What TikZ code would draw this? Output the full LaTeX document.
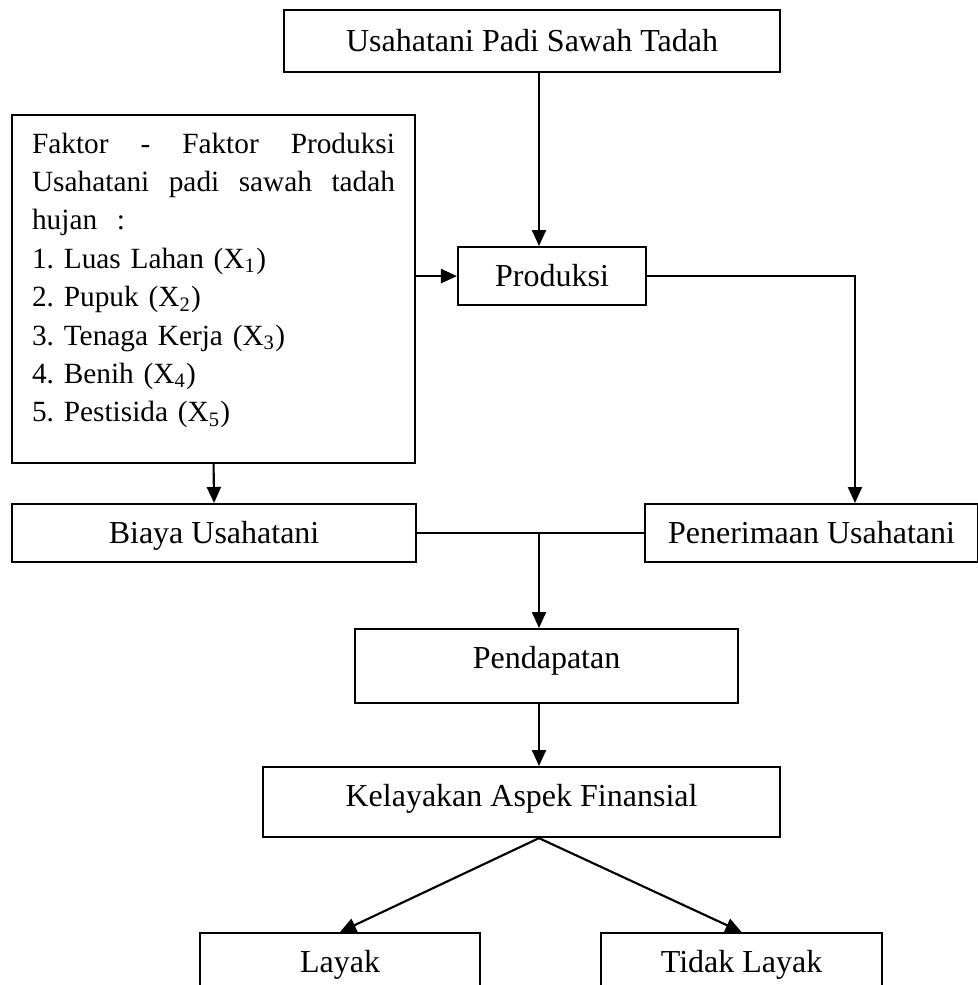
\documentclass[tikz,border=0pt]{standalone}
\usepackage{fontspec}
\setmainfont{Liberation Serif}
\usetikzlibrary{arrows.meta}
\tikzset{
	box/.style={draw, thick, anchor=north west, inner xsep=0pt, inner ysep=0pt, text height=14.625pt, font=\fontsize{12pt}{14.4pt}\selectfont},
	arrow/.style={thick, -{Triangle[length=6pt, width=5.25pt]}},
	link/.style={thick},
}

\begin{document}
\frenchspacing
\begin{tikzpicture}[x=0.375pt, y=-0.375pt]
		\clip (0,0) rectangle (978,985);
		\useasboundingbox (0,0) rectangle (978,985);

		% Boxes
		\node[box, minimum width=186pt, text height=15.375pt, text depth=7.875pt] (usahatani) at (283,9) {Usahatani Padi Sawah Tadah};
		\node[box, inner xsep=7.5pt, text width=136.125pt, align=left, text height=14.25pt, text depth=116.25pt, font=\fontsize{11pt}{14.4pt}\selectfont] (faktor) at (11,114) {Faktor\hfill-\hfill Faktor\hfill Produksi\\Usahatani\hfill padi\hfill sawah\hfill tadah\\hujan\ \ :\\1. Luas Lahan (X\textsubscript{1})\\2. Pupuk (X\textsubscript{2})\\3. Tenaga Kerja (X\textsubscript{3})\\4. Benih (X\textsubscript{4})\\5. Pestisida (X\textsubscript{5})};
		\node[box, minimum width=70.5pt, text depth=7.125pt] (produksi) at (457,246) {Produksi};
		\node[box, minimum width=151.5pt, text depth=7.125pt] (biaya) at (11,503) {Biaya Usahatani};
		\node[box, minimum width=124.875pt, text depth=7.125pt] (penerimaan) at (644,503) {Penerimaan Usahatani};
		\node[box, minimum width=143.625pt, text depth=13.125pt] (pendapatan) at (354,628) {Pendapatan};
		\node[box, minimum width=193.875pt, text depth=11.625pt] (kelayakan) at (262,766) {Kelayakan Aspek Finansial};
		\node[box, minimum width=105pt, text depth=16pt] (layak) at (199,932) {Layak};
		\node[box, minimum width=105.375pt, text depth=16pt] (tidak) at (600,932) {Tidak Layak};

		% Helper columns
		\coordinate (spine) at (539,0);
		\coordinate (right) at (855,0);

		% Connectors
		\draw[arrow] (usahatani.south -| spine) -- (produksi.north -| spine);
		\draw[arrow] (faktor.east |- produksi.west) -- (produksi.west);
		\draw[arrow] (produksi.east) -| (penerimaan.north -| right);
		\draw[arrow] (faktor.south) -- (biaya.north);
		\draw[link] (biaya.east) -- (penerimaan.west);
		\draw[arrow] (biaya.east -| spine) -- (pendapatan.north -| spine);
		\draw[arrow] (pendapatan.south -| spine) -- (kelayakan.north -| spine);
		\draw[arrow] (kelayakan.south -| spine) -- (layak.north);
		\draw[arrow] (kelayakan.south -| spine) -- (tidak.north);
	\end{tikzpicture}
\end{document}
